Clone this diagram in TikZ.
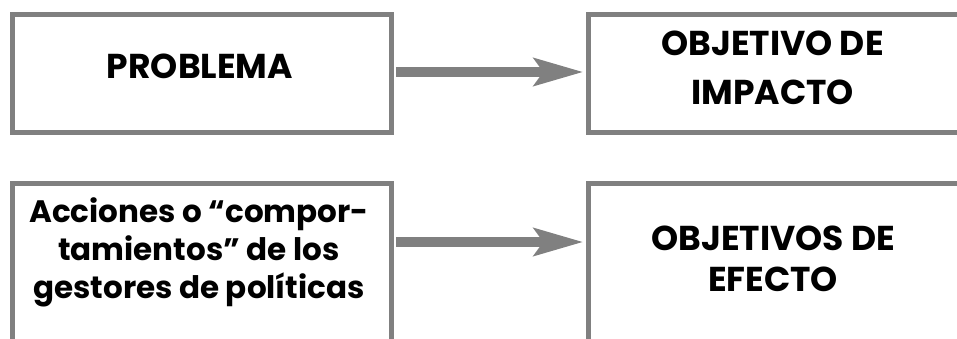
\documentclass[tikz,border=0pt]{standalone}
\usepackage{fontspec}
\setmainfont{Poppins}[BoldFont={Poppins Bold}]
\usetikzlibrary{arrows.meta}
\definecolor{boxgray}{RGB}{128,128,128}
\tikzset{
  panel/.style={draw=boxgray, line width=5pt, rectangle, inner sep=0pt, anchor=north west},
  label/.style={font=\bfseries\fontsize{34.5}{49}\selectfont, align=center, inner sep=0pt, text=black},
  flow/.style={draw=boxgray, line width=10.5pt, -{Stealth[length=49pt, width=27pt, inset=9pt]}}
}
\begin{document}
\begin{tikzpicture}[x=1pt,y=-1pt]
\useasboundingbox (0,0) rectangle (957,339);
\clip (0,0) rectangle (957,339);
\node[panel, minimum width=379pt, minimum height=118pt] (tl) at (9.5,12.5) {};
\node[panel, minimum width=375pt, minimum height=118pt] (tr) at (586,12.5) {};
\node[panel, minimum width=379pt, minimum height=180pt] (bl) at (9.5,181) {};
\node[panel, minimum width=375pt, minimum height=180pt] (br) at (586,181) {};
\node[label, anchor=base] (t1) at (200,79) {PROBLEMA};
\node[label] (t2) at (772.5,68) {OBJETIVO DE\\IMPACTO};
\node[label, font=\bfseries\fontsize{31}{38}\selectfont] (t3) at (199,252) {Acciones o “compor-\\tamientos” de los\\gestores de políticas};
\node[label, font=\bfseries\fontsize{34.5}{41}\selectfont] (t4) at (773,258.4) {OBJETIVOS DE\\EFECTO};
\coordinate (a1) at (0,72);
\coordinate (a2) at (0,242);
\draw[flow] ([xshift=2.5pt]tl.east |- a1) -- ([xshift=-2.5pt]tr.west |- a1);
\draw[flow] ([xshift=2.5pt]bl.east |- a2) -- ([xshift=-2.5pt]br.west |- a2);
\end{tikzpicture}
\end{document}
